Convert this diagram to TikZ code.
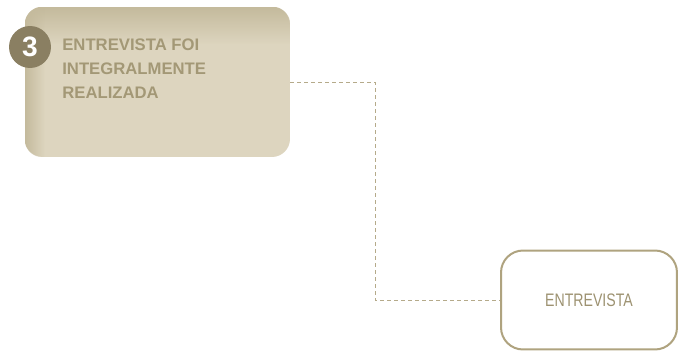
\documentclass[tikz,border=0pt]{standalone}
\usepackage{fontspec}
\setmainfont{Liberation Sans}
\newfontfamily\narrowfont[FakeStretch=0.78]{Liberation Sans}
\usetikzlibrary{positioning,calc,fadings}
\definecolor{beige}{HTML}{DDD5BF}
\definecolor{beigedk}{HTML}{C4BA9C}
\definecolor{badge}{HTML}{8A7F62}
\definecolor{titletxt}{HTML}{A39876}
\definecolor{frame}{HTML}{AFA37F}
\definecolor{dash}{HTML}{B5AA8A}
\definecolor{boxtxt}{HTML}{9D9271}
\tikzset{stage/.style={fill=beige,minimum width=5.3cm,minimum height=3cm,rounded corners=0.36cm},
         outcome/.style={draw=frame,line width=0.04cm,fill=white,minimum width=3.52cm,minimum height=1.98cm,
           rounded corners=0.44cm,text=boxtxt,font=\narrowfont\fontsize{10.3}{12}\selectfont},
         badge/.style={circle,fill=badge,minimum size=0.84cm,inner sep=0pt,text=white,font=\bfseries\fontsize{16}{18}\selectfont},
         link/.style={draw=dash,line width=0.02cm,dash pattern=on 0.08cm off 0.06cm}
}
\begin{document}
\begin{tikzpicture}[x=0.02cm,y=-0.02cm]
  \useasboundingbox (0,0) rectangle (679,352);
  \node[stage] (a) at (157.5,82) {};
  % soft edges on the card
  \begin{scope}
    \clip[rounded corners=0.36cm] (a.north west) rectangle (a.south east);
    \fill[beigedk,path fading=south] (a.north west) rectangle ([yshift=-0.75cm]a.north east);
    \fill[beigedk,path fading=east] (a.north west) rectangle ([xshift=0.4cm]a.south west);
  \end{scope}
  \node[badge] (n) at (30,47) {3};
  \node[anchor=north west,inner sep=0pt,align=left,text=titletxt,font=\bfseries\fontsize{9.5}{13.7}\selectfont] (t) at (62,38) {ENTREVISTA FOI\\INTEGRALMENTE\\REALIZADA};
  \node[outcome] (b) at (589,300) {ENTREVISTA};
  \coordinate (k) at (375,82);
  \draw[link] (a) -- (k) |- (b);
\end{tikzpicture}
\end{document}
